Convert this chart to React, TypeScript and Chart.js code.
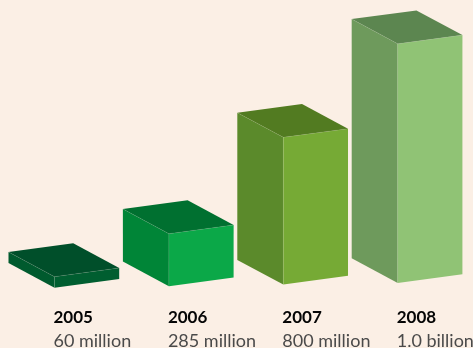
import React, { useEffect, useRef } from "react";
import { Chart, LinearScale, registerables } from "chart.js";

const years = ["2005", "2006", "2007", "2008"];
const valueLabels = ["60 million", "285 million", "800 million", "1.0 billion"];
const subscribersMillions = [60, 285, 800, 1000];

const frontColors = ["#005E30", "#0BA848", "#76AA35", "#90C375"];
const sideColors = ["#005A2E", "#008537", "#5B8A2B", "#6E9A5C"];
const topColors = ["#004F2A", "#007030", "#527B21", "#5C8650"];
const pageColor = "#FBEFE5";

// The value axis is hidden and steepens above this value.
const AXIS_BREAK = 800;
const AXIS_STRETCH = 2.5;
const axisPosition = (v: number) =>
  v <= AXIS_BREAK ? v : AXIS_BREAK + (v - AXIS_BREAK) * AXIS_STRETCH;

class BrokenLinearScale extends LinearScale {
  static id = "brokenLinear";
  static defaults = LinearScale.defaults;
  getPixelForValue(value: number) {
    return super.getPixelForValue(axisPosition(value));
  }
}

// Isometric projection, as fractions of the bar's overall footprint.
const LEFT_SHARE = 0.4155;
const RIGHT_SHARE = 0.5845;
const LEFT_RISE = 0.223;
const RIGHT_RISE = 0.0786;
const FLOOR_TILT = -0.0137;

type Pt = [number, number];

function face(ctx: CanvasRenderingContext2D, pts: Pt[], fill: string) {
  ctx.beginPath();
  pts.forEach(([x, y], i) => (i ? ctx.lineTo(x, y) : ctx.moveTo(x, y)));
  ctx.closePath();
  ctx.fillStyle = fill;
  ctx.fill();
}

function edge(ctx: CanvasRenderingContext2D, a: Pt, b: Pt) {
  ctx.beginPath();
  ctx.moveTo(a[0], a[1]);
  ctx.lineTo(b[0], b[1]);
  ctx.stroke();
}

// Draws each bar element as a solid box whose front corner sits on the tick.
const boxPlugin = {
  id: "boxes",
  afterDatasetsDraw(chart: any) {
    const { ctx } = chart;
    const bars = chart.getDatasetMeta(0).data;
    ctx.save();
    bars.forEach((bar: any, i: number) => {
      const shift = (bar.x - bars[0].x) * FLOOR_TILT;
      const x = bar.x;
      const top = bar.y + shift;
      const bottom = bar.base + shift;
      const w = bar.width;
      const lx = x - w * LEFT_SHARE;
      const rx = x + w * RIGHT_SHARE;
      const ly = w * LEFT_RISE;
      const ry = w * RIGHT_RISE;
      const frontTop: Pt = [x, top];
      const leftTop: Pt = [lx, top - ly];
      const rightTop: Pt = [rx, top - ry];
      const backTop: Pt = [rx - w * LEFT_SHARE, top - ly - ry];
      face(ctx, [leftTop, frontTop, [x, bottom], [lx, bottom - ly]], sideColors[i]);
      face(ctx, [frontTop, rightTop, [rx, bottom - ry], [x, bottom]], frontColors[i]);
      face(ctx, [leftTop, backTop, rightTop, frontTop], topColors[i]);
      ctx.strokeStyle = "rgba(255,255,255,0.14)";
      ctx.lineWidth = 0.6;
      edge(ctx, leftTop, frontTop);
      edge(ctx, frontTop, rightTop);
      edge(ctx, frontTop, [x, bottom]);
    });
    ctx.restore();
  },
};

Chart.register(...registerables, BrokenLinearScale);

const fixHeight = (height: number) => (scale: any) => {
  scale.height = height;
  scale.paddingLeft = 0;
  scale.paddingRight = 0;
};

export default function App() {
  const ref = useRef<HTMLCanvasElement>(null);
  useEffect(() => {
    const chart = new Chart(ref.current!, {
      type: "bar",
      data: {
        labels: years,
        datasets: [
          {
            data: subscribersMillions,
            backgroundColor: "transparent",
            barPercentage: 1,
            categoryPercentage: 0.9677,
          },
        ],
      },
      plugins: [boxPlugin],
      options: {
        responsive: false,
        animation: false,
        layout: { padding: { left: 54.5, right: 75.3, top: 48.5, bottom: 0 } },
        plugins: { legend: { display: false }, tooltip: { enabled: false } },
        scales: {
          x: {
            type: "category",
            offset: false,
            position: "bottom",
            grid: { display: false, drawTicks: false },
            border: { display: false },
            afterFit: fixHeight(38),
            ticks: {
              align: "start",
              autoSkip: false,
              maxRotation: 0,
              padding: 20,
              labelOffset: -1,
              color: "#050505",
              font: { family: "Lato", size: 17, weight: "bold" },
            },
          },
          x1: {
            type: "category",
            labels: valueLabels,
            offset: false,
            position: "bottom",
            grid: { display: false, drawTicks: false },
            border: { display: false },
            afterFit: fixHeight(22.3),
            ticks: {
              align: "start",
              autoSkip: false,
              maxRotation: 0,
              padding: 5,
              labelOffset: -1,
              color: "#4a4a4a",
              font: { family: "Lato", size: 18, weight: "normal" },
            },
          },
          y: {
            type: "brokenLinear",
            display: false,
            min: 0,
            max: axisPosition(1000),
          },
        },
      } as any,
    });
    return () => chart.destroy();
  }, []);
  return (
    <div style={{ position: "absolute", left: 0, top: 0, width: 473, height: 348, background: pageColor, overflow: "hidden" }}>
      <canvas ref={ref} width={473} height={348} style={{ display: "block" }} />
    </div>
  );
}
